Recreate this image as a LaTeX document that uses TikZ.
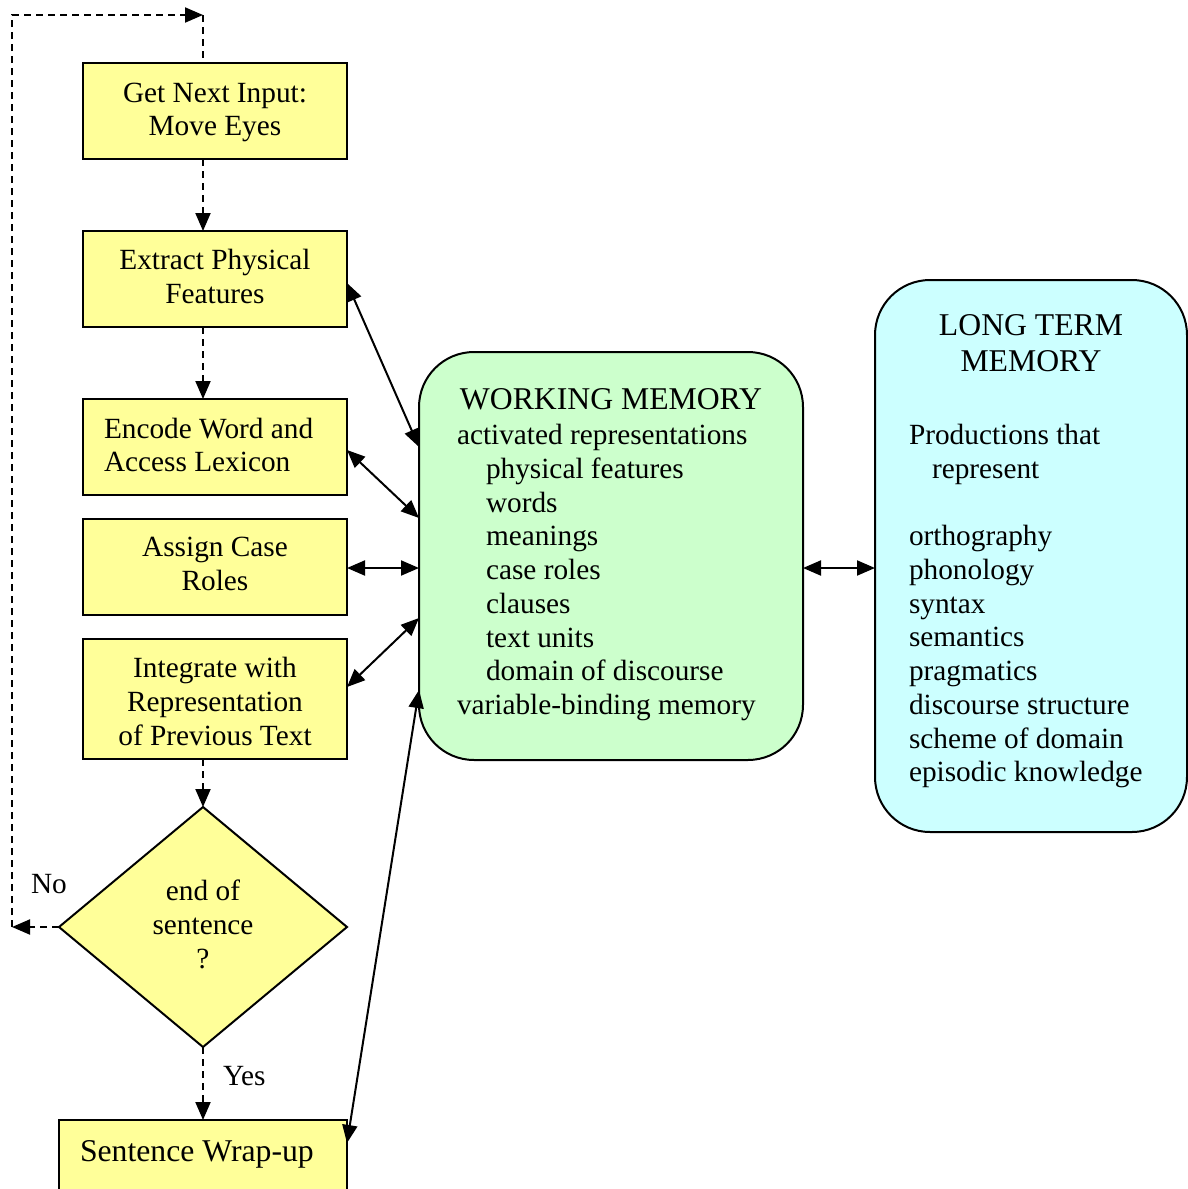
\documentclass[tikz,border=0pt]{standalone}
\usepackage{fontspec}
\setmainfont{Liberation Serif}
\usetikzlibrary{arrows.meta,shapes.geometric}
\definecolor{boxyellow}{HTML}{FFFF99}
\definecolor{wmgreen}{HTML}{CCFFCC}
\definecolor{ltmcyan}{HTML}{CCFFFF}

\begin{document}
\begin{tikzpicture}[x=1pt,y=-1pt,
  every node/.style={inner sep=0pt, outer sep=0pt},
  body/.style={font=\fontsize{29.3}{33.7}\selectfont},
  heading/.style={font=\fontsize{31.7}{35}\selectfont},
  stepbox/.style={draw=black, line width=2pt, fill=boxyellow,
    minimum width=264pt, minimum height=96pt},
  memory/.style={draw=black, line width=2pt, rounded corners=55pt},
  flow/.style={line width=2pt, dash pattern=on 7pt off 5pt, -{Triangle[length=18pt,width=15pt]}},
  flowline/.style={line width=2pt, dash pattern=on 7pt off 5pt},
  link/.style={line width=2pt, {Triangle[length=18pt,width=15pt]}-{Triangle[length=18pt,width=15pt]}},
]
\clip (0,0) rectangle (1188,1189);

% processing steps
\node[stepbox] (b1) at (215,111) {};
\node[body, align=center] (b1t) at (215,112.5) {Get Next Input:\\Move Eyes};
\node[stepbox] (b2) at (215,279) {};
\node[body, align=center] (b2t) at (215,276.5) {Extract Physical\\Features};
\node[stepbox] (b3) at (215,447) {};
\node[body, align=left, anchor=west] (b3t) at (104,445) {Encode Word and\\Access Lexicon};
\node[stepbox] (b4) at (215,567) {};
\node[body, align=center] (b4t) at (215,564) {Assign Case\\Roles};
\node[stepbox, minimum height=120pt] (b5) at (215,699) {};
\node[body, align=center] (b5t) at (215,701.5) {Integrate with\\Representation\\of Previous Text};

% decision
\node[draw=black, line width=2pt, fill=boxyellow, diamond,
  minimum width=288pt, minimum height=240pt] (dec) at (203,927) {};
\node[body, align=center] (dect) at (203,924.5) {end of\\sentence\\?};

% final step (runs past the lower edge)
\node[stepbox, minimum width=288pt] (wrap) at (203,1168) {};
\node[heading, anchor=base west] (wrapt) at (80,1161) {Sentence Wrap-up};

% memories
\node[memory, fill=wmgreen, minimum width=384pt, minimum height=408pt] (wm) at (611,556) {};
\node[heading, anchor=base] (wmtitle) at (611,409) {WORKING MEMORY};
\foreach \ind/\txt [count=\i] in {0/activated representations, 1/physical features,
    1/words, 1/meanings, 1/case roles, 1/clauses, 1/text units,
    1/domain of discourse, 0/variable-binding memory}
  \node[body, anchor=base west] (wm\i) at (457+29*\ind, 444.5+33.75*\i-33.75) {\txt};

\node[memory, fill=ltmcyan, minimum width=312pt, minimum height=552pt] (ltm) at (1031,556) {};
\node[heading, anchor=base] (ltmt1) at (1031,335) {LONG TERM};
\node[heading, anchor=base] (ltmt2) at (1031,371) {MEMORY};
\node[body, anchor=base west] (ltmp1) at (909,444.5) {Productions that};
\node[body, anchor=base west] (ltmp2) at (932,478.5) {represent};
\foreach \txt [count=\i] in {orthography, phonology, syntax, semantics,
    pragmatics, discourse structure, scheme of domain, episodic knowledge}
  \node[body, anchor=base west] (ltm\i) at (909, 545.5+33.75*\i-33.75) {\txt};

% control flow, on the axis of the decision
\coordinate (loopB) at (12,927);
\coordinate (loopT) at (203,15);
\draw[flow] (b1.south -| dec.north) -- (b2.north -| dec.north);
\draw[flow] (b2.south -| dec.north) -- (b3.north -| dec.north);
\draw[flow] (b5.south -| dec.north) -- (dec.north);
\draw[flow] (dec.south) -- (wrap.north);
\draw[flow] (dec.west) -- (loopB);
\draw[flow] (loopB) |- (loopT);
\draw[flowline] (loopT) -- (b1.north -| loopT);
\node[body, anchor=base west] (nolbl) at (31,893) {No};
\node[body, anchor=base west] (yeslbl) at (223,1085) {Yes};

% exchanges with working memory
\draw[link] ([yshift=-4pt]b2.east) -- ([yshift=109pt]wm.west);
\draw[link] ([yshift=-3pt]b3.east) -- ([yshift=38pt]wm.west);
\draw[link] ([yshift=-1pt]b4.east) -- ([yshift=-12pt]wm.west);
\draw[link] ([yshift=12pt]b5.east) -- ([yshift=-62pt]wm.west);
\draw[link] ([yshift=25pt]wrap.east) -- ([yshift=-134pt]wm.west);
\draw[link] ([yshift=-12pt]wm.east) -- ([yshift=-12pt]ltm.west);
\end{tikzpicture}
\end{document}
